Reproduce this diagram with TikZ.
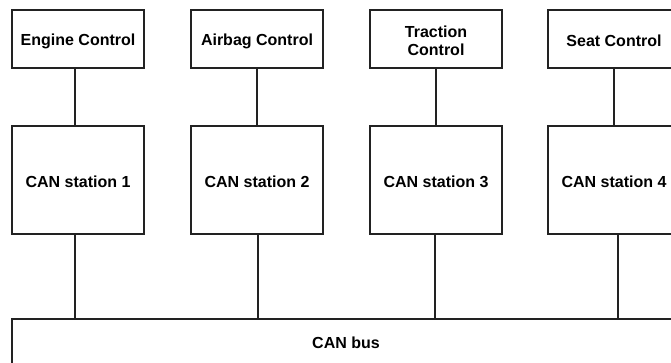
\documentclass[tikz,border=0pt]{standalone}
\usepackage{fontspec}
\setmainfont{Liberation Sans}
\usetikzlibrary{shadows}
\definecolor{ink}{HTML}{222222}
\begin{document}
\begin{tikzpicture}[x=1pt,y=1pt,
  unit/.style={draw=ink, line width=1.6pt, fill=white, minimum width=132pt,
    inner sep=0pt, font=\bfseries\fontsize{16}{18}\selectfont, align=center,
    drop shadow={shadow xshift=0.9pt, shadow yshift=-0.9pt, opacity=0.3}},
  ctrl/.style={unit, minimum height=58pt},
  station/.style={unit, minimum height=108pt},
  bus/.style={unit, minimum width=668pt, minimum height=48pt},
  lbl/.style={font=\bfseries\fontsize{16}{18}\selectfont, align=center, inner sep=0pt},
  link/.style={draw=ink, line width=1.2pt}]
\useasboundingbox (0,0) rectangle (671,-362);
\clip (0,0) rectangle (671,-362);
\node[ctrl] (c1) at (78,-39) {};
\node[ctrl] (c2) at (257,-39) {};
\node[ctrl] (c3) at (436,-39) {};
\node[ctrl] (c4) at (614,-39) {};
\node[station] (s1) at (78,-180) {};
\node[station] (s2) at (257,-180) {};
\node[station] (s3) at (436,-180) {};
\node[station] (s4) at (614,-180) {};
\node[bus] (bus) at (346,-343) {};
\node[lbl] (t1) at ([yshift=-2pt]c1.center) {Engine Control};
\node[lbl] (t2) at ([yshift=-2pt]c2.center) {Airbag Control};
\node[lbl] (t3) at ([yshift=-2pt]c3.center) {Traction\\Control};
\node[lbl] (t4) at ([yshift=-2pt]c4.center) {Seat Control};
\node[lbl] (u1) at ([yshift=-2pt]s1.center) {CAN station 1};
\node[lbl] (u2) at ([yshift=-2pt]s2.center) {CAN station 2};
\node[lbl] (u3) at ([yshift=-2pt]s3.center) {CAN station 3};
\node[lbl] (u4) at ([yshift=-2pt]s4.center) {CAN station 4};
\node[lbl] (ub) at (bus.center) {CAN bus};
\draw[link] ([xshift=-3pt]c1.south) -- ([xshift=-3pt]s1.north);
\draw[link] (c2.south) -- (s2.north);
\draw[link] (c3.south) -- (s3.north);
\draw[link] (c4.south) -- (s4.north);
\draw[link] ([xshift=-3pt]s1.south) -- ([xshift=-3pt]s1.south |- bus.north);
\draw[link] ([xshift=1pt]s2.south) -- ([xshift=1pt]s2.south |- bus.north);
\draw[link] ([xshift=-1pt]s3.south) -- ([xshift=-1pt]s3.south |- bus.north);
\draw[link] ([xshift=4pt]s4.south) -- ([xshift=4pt]s4.south |- bus.north);
\end{tikzpicture}
\end{document}
